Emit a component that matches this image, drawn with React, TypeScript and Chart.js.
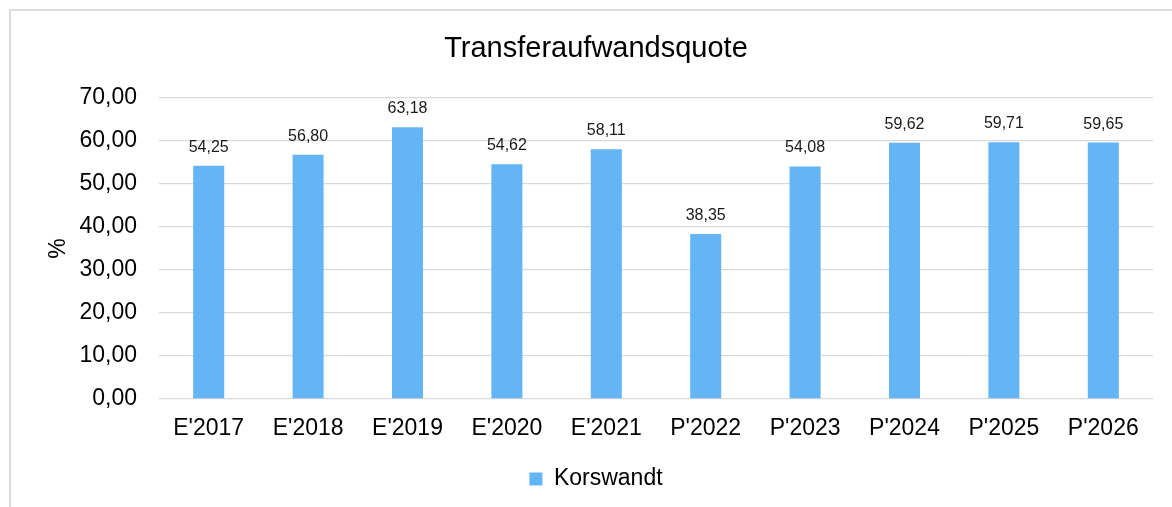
import React, { useEffect, useRef } from "react";
import { Chart, registerables } from "chart.js";

Chart.register(...registerables);

const categories = ["E'2017", "E'2018", "E'2019", "E'2020", "E'2021", "P'2022", "P'2023", "P'2024", "P'2025", "P'2026"];
const korswandt = [54.25, 56.8, 63.18, 54.62, 58.11, 38.35, 54.08, 59.62, 59.71, 59.65];
const seriesName = "Korswandt";
const chartTitle = "Transferaufwandsquote";
const yAxisTitle = "%";
const yMin = 0;
const yMax = 70;
const yStep = 10;

const FONT = "'Liberation Sans', Arial, Helvetica, sans-serif";
const BAR_COLOR = "#64B5F6";

const fmt = (v: number) => v.toFixed(2).replace(".", ",");

const valueLabels = {
  id: "valueLabels",
  afterDatasetsDraw(chart: any) {
    const ctx = chart.ctx;
    ctx.save();
    ctx.font = `16px ${FONT}`;
    ctx.fillStyle = "#1a1a1a";
    ctx.textAlign = "center";
    ctx.textBaseline = "alphabetic";
    chart.data.datasets.forEach((ds: any, i: number) => {
      const meta = chart.getDatasetMeta(i);
      meta.data.forEach((bar: any, j: number) => {
        ctx.fillText(fmt(ds.data[j]), bar.x, bar.y - 14);
      });
    });
    ctx.restore();
  },
};

export default function App() {
  const ref = useRef<HTMLCanvasElement>(null);
  useEffect(() => {
    if (!ref.current) return;
    const chart = new Chart(ref.current, {
      type: "bar",
      data: {
        labels: categories,
        datasets: [
          {
            label: seriesName,
            data: korswandt,
            backgroundColor: BAR_COLOR,
            borderWidth: 0,
            barPercentage: 0.312,
            categoryPercentage: 1,
          },
        ],
      },
      options: {
        animation: false,
        responsive: false,
        maintainAspectRatio: false,
        layout: { padding: { top: 20.6, left: 0, right: 0, bottom: 10.5 } },
        plugins: {
          title: {
            display: true,
            text: chartTitle,
            color: "#000",
            font: { family: FONT, size: 29, weight: "normal" },
            padding: { top: 0, bottom: 31.6 },
          },
          legend: {
            position: "bottom",
            labels: {
              color: "#000",
              font: { family: FONT, size: 23 },
              boxWidth: 13,
              boxHeight: 13,
              padding: 10,
            },
          },
          tooltip: { enabled: false },
        },
        scales: {
          x: {
            grid: { display: false, drawTicks: false },
            border: { display: false },
            ticks: {
              color: "#000",
              font: { family: FONT, size: 23 },
              padding: 16.2,
              maxRotation: 0,
              autoSkip: false,
            },
            afterFit: (s: any) => {
              s.height = 58.5;
            },
          },
          y: {
            min: yMin,
            max: yMax,
            grid: { color: "#d9d9d9", lineWidth: 1.3, drawTicks: false },
            border: { display: false },
            ticks: {
              stepSize: yStep,
              color: "#000",
              font: { family: FONT, size: 23 },
              padding: 22,
              callback: (v: any) => fmt(Number(v)),
            },
            title: {
              display: true,
              text: yAxisTitle,
              color: "#000",
              font: { family: FONT, size: 23 },
              padding: { top: 34, bottom: 0 },
            },
            afterFit: (s: any) => {
              s.width = 148;
            },
          },
          yRight: {
            position: "right",
            display: true,
            grid: { display: false, drawTicks: false },
            border: { display: false },
            ticks: { display: false },
            afterFit: (s: any) => {
              s.width = 28;
            },
          },
        },
      },
      plugins: [valueLabels],
    } as any);
    return () => chart.destroy();
  }, []);

  return (
    <div
      style={{
        position: "fixed",
        left: 0,
        top: 0,
        width: 1172,
        height: 507,
        overflow: "hidden",
        background: "#fff",
      }}
    >
      <div
        style={{
          position: "absolute",
          left: 9,
          top: 9,
          width: 1300,
          height: 700,
          border: "2px solid #dcdcdc",
        }}
      />
      <canvas
        ref={ref}
        width={1170}
        height={500}
        style={{ position: "absolute", left: 11, top: 11, width: 1170, height: 500 }}
      />
    </div>
  );
}
